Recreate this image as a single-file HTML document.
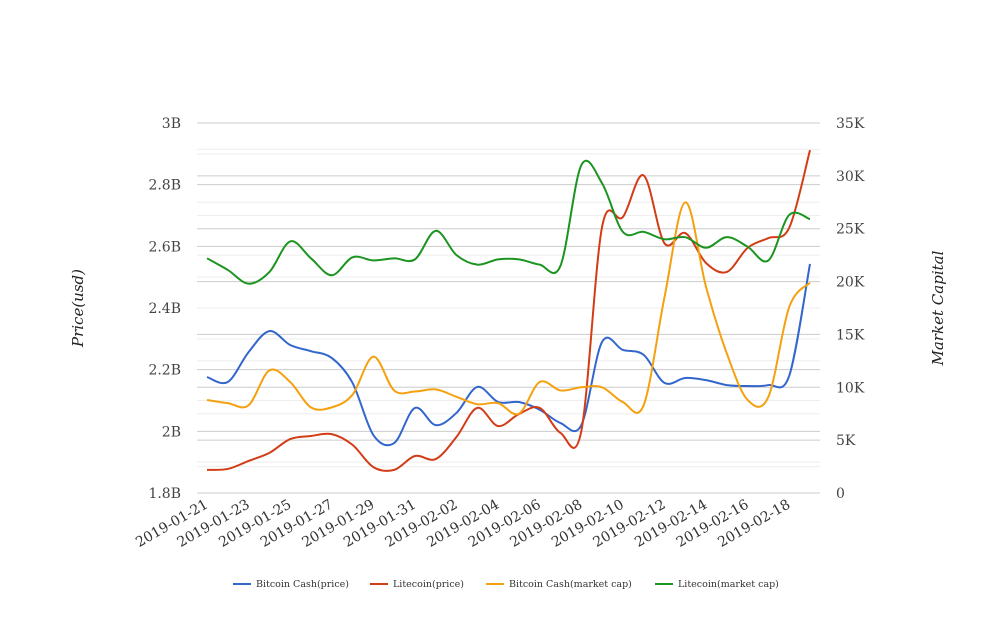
<!DOCTYPE html>
<html><head><meta charset="utf-8"><style>
body{margin:0;background:#fff;}
svg text{font-family:"DejaVu Serif","Liberation Serif",serif;}
</style></head><body>
<svg id="chart" width="1008" height="616" xmlns="http://www.w3.org/2000/svg"></svg>
<script>
const dates=["2019-01-21","2019-01-22","2019-01-23","2019-01-24","2019-01-25","2019-01-26","2019-01-27","2019-01-28","2019-01-29","2019-01-30","2019-01-31","2019-02-01","2019-02-02","2019-02-03","2019-02-04","2019-02-05","2019-02-06","2019-02-07","2019-02-08","2019-02-09","2019-02-10","2019-02-11","2019-02-12","2019-02-13","2019-02-14","2019-02-15","2019-02-16","2019-02-17","2019-02-18","2019-02-19"];
const bchPrice=[2.176,2.16,2.257,2.325,2.28,2.26,2.238,2.157,1.988,1.962,2.076,2.02,2.06,2.144,2.095,2.095,2.07,2.027,2.02,2.29,2.264,2.248,2.157,2.173,2.166,2.15,2.147,2.15,2.18,2.543];
const ltcPrice=[1.875,1.878,1.904,1.93,1.975,1.985,1.991,1.956,1.884,1.875,1.92,1.91,1.982,2.076,2.017,2.056,2.076,1.995,2.0,2.663,2.695,2.83,2.61,2.643,2.546,2.517,2.595,2.627,2.66,2.912];
const bchCap=[8.8,8.5,8.3,11.6,10.5,8.1,8.1,9.3,12.9,9.7,9.6,9.8,9.1,8.4,8.5,7.5,10.5,9.7,10.0,10.0,8.6,8.3,18.5,27.5,19.5,13.2,8.8,9.1,17.6,19.9];
const ltcCap=[22.2,21.1,19.8,20.9,23.8,22.2,20.6,22.3,22.0,22.2,22.1,24.8,22.5,21.6,22.1,22.1,21.6,21.5,31.0,29.3,24.7,24.7,24.0,24.2,23.2,24.2,23.3,22.0,26.3,25.9];
const leftTicks=["1.8B","2B","2.2B","2.4B","2.6B","2.8B","3B"];
const rightTicks=["0","5K","10K","15K","20K","25K","30K","35K"];
const seriesNames=["Bitcoin Cash(price)","Litecoin(price)","Bitcoin Cash(market cap)","Litecoin(market cap)"];
const colors=["#3366cc","#d23c16","#f5a00f","#1b9420"];

const svg=document.getElementById('chart');
const NS="http://www.w3.org/2000/svg";
const X0=197,X1=820,Y0=493,Y1=123,px0=207,px1=810;
const xs=i=>px0+(px1-px0)*i/(dates.length-1);
const yl=v=>Y0-(v-1.8)/1.2*(Y0-Y1);
const yr=v=>Y0-v/35*(Y0-Y1);
function mk(t,a,p){const e=document.createElementNS(NS,t);for(const k in a)e.setAttribute(k,a[k]);(p||svg).appendChild(e);return e;}
for(let i=0;i<=12;i++){const y=Y0-(Y0-Y1)*i/12;const l=mk('line',{x1:X0,x2:X1,y1:y,y2:y,stroke:i%2?'#eeeeee':'#cccccc'});
}
for(let i=0;i<=14;i++){const y=Y0-(Y0-Y1)*i/14;const l=mk('line',{x1:X0,x2:X1,y1:y,y2:y,stroke:i%2?'#eeeeee':'#cccccc'});
}
leftTicks.forEach((t,i)=>{const e=mk('text',{x:181,y:yl(1.8+0.2*i)+5,'text-anchor':'end','font-size':14,fill:'#444'});e.textContent=t;
});
rightTicks.forEach((t,i)=>{const e=mk('text',{x:836,y:yr(5*i)+5,'font-size':14,fill:'#444'});e.textContent=t;
});
dates.forEach((d,i)=>{if(i%2)return;const x=xs(i)+2,y=507;const e=mk('text',{x:x,y:y,'text-anchor':'end','font-size':14,fill:'#333',transform:`rotate(-30 ${x} ${y})`});e.textContent=d;
});
let t=mk('text',{x:83,y:308,'text-anchor':'middle','font-size':15,'font-style':'italic',fill:'#222',transform:'rotate(-90 83 308)'});t.textContent='Price(usd)';

t=mk('text',{x:943,y:308,'text-anchor':'middle','font-size':15,'font-style':'italic',fill:'#222',transform:'rotate(-90 943 308)'});t.textContent='Market Capital';

function path(pts){let d=`M${pts[0][0]},${pts[0][1]}`;for(let i=0;i<pts.length-1;i++){const p0=pts[Math.max(i-1,0)],p1=pts[i],p2=pts[i+1],p3=pts[Math.min(i+2,pts.length-1)];
const c1=[p1[0]+(p2[0]-p0[0])/6,p1[1]+(p2[1]-p0[1])/6],c2=[p2[0]-(p3[0]-p1[0])/6,p2[1]-(p3[1]-p1[1])/6];d+=`C${c1[0]},${c1[1]} ${c2[0]},${c2[1]} ${p2[0]},${p2[1]}`;}return d;}
const data=[[bchPrice,yl],[ltcPrice,yl],[bchCap,yr],[ltcCap,yr]];
const lineNames=['bch-price-line','ltc-price-line','bch-marketcap-line','ltc-marketcap-line'];
data.forEach(([arr,f],k)=>{const p=mk('path',{d:path(arr.map((v,i)=>[xs(i),f(v)])),fill:'none',stroke:colors[k],'stroke-width':2});
});
const lx=[233,370,486,655];
seriesNames.forEach((n,k)=>{const g=mk('g',{});
mk('line',{x1:lx[k],x2:lx[k]+18,y1:584,y2:584,stroke:colors[k],'stroke-width':2},g);
const e=mk('text',{x:lx[k]+23,y:587,'font-size':9.5,fill:'#333'},g);e.textContent=n;});
</script>
</body></html>
